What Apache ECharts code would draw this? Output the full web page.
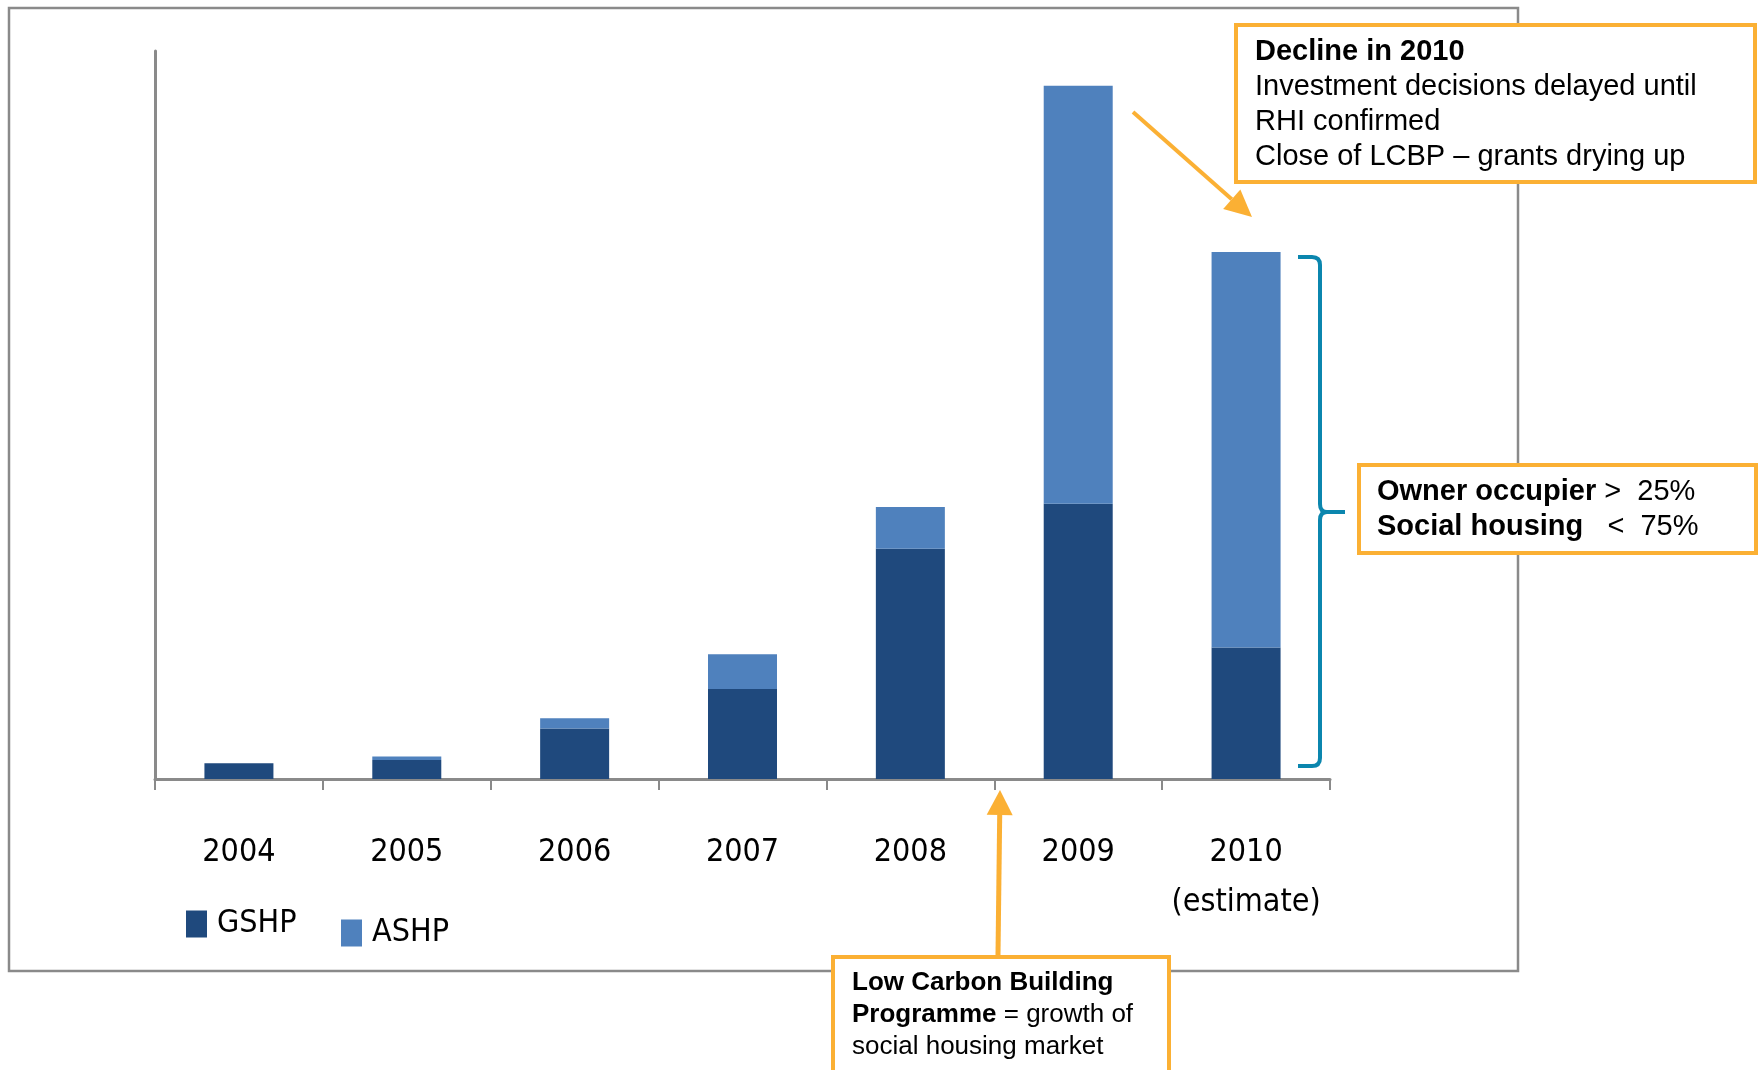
<!DOCTYPE html>
<html>
<head>
<meta charset="utf-8">
<script src="https://cdn.jsdelivr.net/npm/echarts@6/dist/echarts.min.js"></script>
<style>
  html, body { margin: 0; padding: 0; background: #ffffff; }
  #chart { width: 1762px; height: 1070px; }
</style>
</head>
<body>
<div id="chart"></div>
<script>
// ---- data ----
const categories = ['2004', '2005', '2006', '2007', '2008', '2009', '2010\n(estimate)'];
const seriesNames = ['GSHP', 'ASHP'];
const gshpValues = [14, 17, 45, 80, 205, 245, 117];
const ashpValues = [0, 3, 9, 31, 37, 372, 352];
const yMax = 648;

// ---- styles ----
const NARROW = "'Liberation Sans Narrow', 'Arial Narrow', 'DejaVu Sans Condensed', sans-serif";
const SANS = "'Liberation Sans', Arial, Helvetica, sans-serif";
const ORANGE = '#FBB034';
const TEAL = '#0B86AE';
const GREY = '#8A8A8A';
const DARK = '#1F497D';
const LIGHT = '#4F81BD';

const chart = echarts.init(document.getElementById('chart'), null, { renderer: 'canvas' });

function arrowHead(tip, from, len, half) {
  const dx = tip[0] - from[0], dy = tip[1] - from[1];
  const L = Math.sqrt(dx * dx + dy * dy);
  const ux = dx / L, uy = dy / L;
  const bx = tip[0] - ux * len, by = tip[1] - uy * len;
  const px = -uy, py = ux;
  return {
    base: [bx, by],
    pts: [tip, [bx + px * half, by + py * half], [bx - px * half, by - py * half]]
  };
}

const a1 = arrowHead([1252, 217], [1133, 112], 27, 13);
const a2 = arrowHead([1000, 790], [998, 955], 25, 13);

const bracketStyle = { fill: null, stroke: TEAL, lineWidth: 4 };
function bl(x1, y1, x2, y2) {
  return { type: 'line', z: 10, silent: true, shape: { x1, y1, x2, y2 }, style: bracketStyle };
}
function bc(x1, y1, cx, cy, x2, y2) {
  return { type: 'bezierCurve', z: 10, silent: true,
    shape: { x1, y1, x2, y2, cpx1: cx, cpy1: cy }, style: bracketStyle };
}

const legendText = { fontFamily: NARROW, fontSize: 32, color: '#000', lineHeight: 30, padding: [0, 0, 0, 5] };

const option = {
  animation: false,
  backgroundColor: '#ffffff',
  grid: { left: 155, right: 432, top: 51, bottom: 291, containLabel: false },
  legend: [
    {
      data: [seriesNames[0]], left: 186, top: 908, padding: 0, icon: 'rect',
      itemWidth: 21, itemHeight: 27, itemGap: 0,
      textStyle: legendText
    },
    {
      data: [seriesNames[1]], left: 341, top: 917, padding: 0, icon: 'rect',
      itemWidth: 21, itemHeight: 27, itemGap: 0,
      textStyle: legendText
    }
  ],
  xAxis: {
    type: 'category',
    data: categories,
    boundaryGap: true,
    axisLine: { show: true, lineStyle: { color: GREY, width: 3 } },
    axisTick: { show: true, length: 11, interval: 0, lineStyle: { color: GREY, width: 2 } },
    axisLabel: {
      interval: 0, margin: 49,
      fontFamily: NARROW, fontSize: 32, lineHeight: 50, color: '#000'
    },
    splitLine: { show: false }
  },
  yAxis: {
    type: 'value',
    min: 0, max: yMax,
    axisLine: { show: true, lineStyle: { color: GREY, width: 3 } },
    axisTick: { show: false },
    axisLabel: { show: false },
    splitLine: { show: false }
  },
  series: [
    {
      name: seriesNames[0], type: 'bar', stack: 'total', barWidth: 69,
      itemStyle: { color: DARK },
      data: gshpValues
    },
    {
      name: seriesNames[1], type: 'bar', stack: 'total', barWidth: 69,
      itemStyle: { color: LIGHT },
      data: ashpValues
    }
  ],
  graphic: [
    // outer frame
    {
      type: 'rect', z: 0, silent: true,
      shape: { x: 9, y: 8, width: 1509, height: 963 },
      style: { fill: null, stroke: GREY, lineWidth: 2.5 }
    },
    // top-right arrow
    {
      type: 'line', z: 10, silent: true,
      shape: { x1: 1133, y1: 112, x2: a1.base[0], y2: a1.base[1] },
      style: { stroke: ORANGE, lineWidth: 4 }
    },
    {
      type: 'polygon', z: 10, silent: true,
      shape: { points: a1.pts },
      style: { fill: ORANGE }
    },
    // bottom arrow
    {
      type: 'line', z: 10, silent: true,
      shape: { x1: 998, y1: 955, x2: a2.base[0], y2: a2.base[1] },
      style: { stroke: ORANGE, lineWidth: 5 }
    },
    {
      type: 'polygon', z: 10, silent: true,
      shape: { points: a2.pts },
      style: { fill: ORANGE }
    },
    // bracket
    bl(1298, 257, 1312, 257),
    bc(1312, 257, 1320, 257, 1320, 265),
    bl(1320, 265, 1320, 504),
    bc(1320, 504, 1320, 512, 1327, 512),
    bl(1327, 512, 1345, 512),
    bc(1327, 512, 1320, 512, 1320, 520),
    bl(1320, 520, 1320, 758),
    bc(1320, 758, 1320, 766, 1312, 766),
    bl(1312, 766, 1298, 766),
    // top-right box
    {
      type: 'rect', z: 20, silent: true,
      shape: { x: 1236, y: 25, width: 519, height: 157 },
      style: { fill: '#ffffff', stroke: ORANGE, lineWidth: 4 }
    },
    {
      type: 'text', z: 21, silent: true,
      x: 1255, y: 34,
      style: {
        text: '{b|Decline in 2010}\n{n|Investment decisions delayed until}\n{n|RHI confirmed}\n{n|Close of LCBP \u2013 grants drying up}',
        fill: '#000', fontFamily: SANS, fontSize: 29, lineHeight: 35, verticalAlign: 'top', align: 'left',
        rich: {
          b: { fontFamily: SANS, fontSize: 29, fontWeight: 'bold', lineHeight: 35, fill: '#000' },
          n: { fontFamily: SANS, fontSize: 29, fontWeight: 'normal', lineHeight: 35, fill: '#000' }
        }
      }
    },
    // middle-right box
    {
      type: 'rect', z: 20, silent: true,
      shape: { x: 1359, y: 465, width: 397, height: 88 },
      style: { fill: '#ffffff', stroke: ORANGE, lineWidth: 4 }
    },
    {
      type: 'text', z: 21, silent: true,
      x: 1377, y: 474,
      style: {
        text: '{b|Owner occupier}{n| >  25%}\n{b|Social housing}{n|   <  75%}',
        fill: '#000', fontFamily: SANS, fontSize: 29, lineHeight: 35, verticalAlign: 'top', align: 'left',
        rich: {
          b: { fontFamily: SANS, fontSize: 29, fontWeight: 'bold', lineHeight: 35, fill: '#000' },
          n: { fontFamily: SANS, fontSize: 29, fontWeight: 'normal', lineHeight: 35, fill: '#000' }
        }
      }
    },
    // bottom box
    {
      type: 'rect', z: 20, silent: true,
      shape: { x: 833, y: 957, width: 336, height: 130 },
      style: { fill: '#ffffff', stroke: ORANGE, lineWidth: 4 }
    },
    {
      type: 'text', z: 21, silent: true,
      x: 852, y: 967,
      style: {
        text: '{b|Low Carbon Building}\n{b|Programme}{n| = growth of}\n{n|social housing market}',
        fill: '#000', fontFamily: SANS, fontSize: 26, lineHeight: 32, verticalAlign: 'top', align: 'left',
        rich: {
          b: { fontFamily: SANS, fontSize: 26, fontWeight: 'bold', lineHeight: 32, fill: '#000' },
          n: { fontFamily: SANS, fontSize: 26, fontWeight: 'normal', lineHeight: 32, fill: '#000' }
        }
      }
    }
  ]
};

chart.setOption(option);
</script>
</body>
</html>
